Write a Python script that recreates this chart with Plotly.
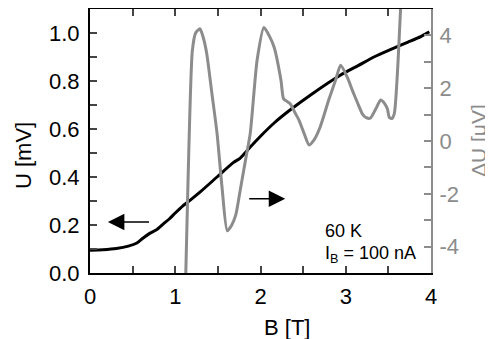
import plotly.graph_objects as go

# Black curve: U [mV] vs B [T]
B_u = [0.0, 0.15, 0.31, 0.45, 0.55, 0.62, 0.7, 0.78, 0.86, 0.93, 1.0, 1.09, 1.18, 1.3, 1.49, 1.68, 1.76, 1.88, 2.0, 2.16, 2.35, 2.6, 2.94, 3.15, 3.33, 3.55, 3.73, 3.88, 3.98]
U = [0.095, 0.097, 0.102, 0.112, 0.125, 0.145, 0.165, 0.18, 0.205, 0.225, 0.25, 0.28, 0.305, 0.34, 0.40, 0.46, 0.478, 0.525, 0.57, 0.625, 0.68, 0.745, 0.825, 0.865, 0.90, 0.935, 0.962, 0.985, 1.005]

# Gray curve: dU [uV] vs B [T]
B_d = [1.12, 1.15, 1.2, 1.24, 1.29, 1.33, 1.37, 1.43, 1.49, 1.55, 1.61, 1.66, 1.71, 1.76, 1.82, 1.88, 1.96, 2.04, 2.1, 2.16, 2.24, 2.27, 2.31, 2.35, 2.4, 2.45, 2.51, 2.57, 2.63, 2.7, 2.8, 2.88, 2.94, 3.02, 3.08, 3.14, 3.2, 3.25, 3.29, 3.35, 3.41, 3.46, 3.49, 3.51, 3.54, 3.57, 3.61, 3.64, 3.66]
dU = [-5.5, -1.5, 3.4, 4.1, 4.25, 3.9, 3.3, 1.8, 0.3, -1.8, -3.4, -3.2, -2.8, -1.9, -0.8, 0.3, 3.06, 4.3, 4.0, 3.55, 2.3, 1.6, 1.5, 1.4, 1.1, 0.8, 0.3, -0.15, 0.05, 0.53, 1.55, 2.3, 2.87, 2.4, 1.9, 1.43, 1.0, 0.87, 0.87, 1.2, 1.55, 1.4, 1.2, 0.9, 0.85, 1.05, 2.8, 4.8, 6.0]

# Tick labels
x_ticks = [0, 1, 2, 3, 4]
u_ticks = [0.0, 0.2, 0.4, 0.6, 0.8, 1.0]
du_ticks = [-4, -2, 0, 2, 4]
du_ticktext = ["-4", "-2", "0", "2", "4"]

FONT = "Liberation Sans, Arial, Helvetica, sans-serif"
GRAY = "#8c8c8c"
FS = 22
OFF = 8  # page body margin offset

fig = go.Figure()
fig.add_trace(go.Scatter(x=B_d, y=dU, mode="lines", line=dict(color=GRAY, width=3, shape="spline", smoothing=0.6),
                         yaxis="y2", showlegend=False))
fig.add_trace(go.Scatter(x=B_u, y=U, mode="lines", line=dict(color="black", width=3, shape="spline", smoothing=0.6),
                         showlegend=False))

fig.update_layout(
    width=493 - OFF, height=339 - OFF,
    margin=dict(l=90 - OFF, r=62, t=8 - OFF + 1, b=66),
    plot_bgcolor="white", paper_bgcolor="white",
    font=dict(family=FONT, size=FS, color="black"),
    xaxis=dict(range=[0, 4], tickvals=x_ticks, ticks="inside", ticklen=7, tickwidth=1.5,
               showline=True, linecolor="black", linewidth=2, mirror="ticks",
               showgrid=False, zeroline=False, automargin=False, ticklabelstandoff=3,
               minor=dict(dtick=0.5, tick0=0, ticks="inside", ticklen=7, tickwidth=1.5),
               tickfont=dict(size=FS)),
    yaxis=dict(range=[0, 1.1], tickvals=u_ticks, tickformat=".1f", ticks="inside", ticklen=7, tickwidth=1.5,
               showline=True, linecolor="black", linewidth=2,
               showgrid=False, zeroline=False, automargin=False, ticklabelstandoff=4,
               minor=dict(dtick=0.1, tick0=0, ticks="inside", ticklen=7, tickwidth=1.5),
               tickfont=dict(size=FS)),
    yaxis2=dict(range=[-5, 5], tickvals=du_ticks, ticktext=du_ticktext, overlaying="y", side="right",
                ticks="inside", ticklen=7, tickwidth=1.5, tickcolor=GRAY,
                showline=True, linecolor=GRAY, linewidth=2,
                showgrid=False, zeroline=False, automargin=False, ticklabelstandoff=2,
                minor=dict(dtick=1, tick0=0, ticks="inside", ticklen=7, tickwidth=1.5, tickcolor=GRAY),
                tickfont=dict(size=FS, color=GRAY)),
    annotations=[
        dict(x=0.21, y=0.2125, xref="x", yref="y", ax=0.71, ay=0.2125, axref="x", ayref="y",
             showarrow=True, arrowhead=2, arrowsize=2.2, arrowwidth=1.5, arrowcolor="black", text=""),
        dict(x=2.29, y=-2.19, xref="x", yref="y2", ax=1.85, ay=-2.19, axref="x", ayref="y2",
             showarrow=True, arrowhead=2, arrowsize=2.2, arrowwidth=1.5, arrowcolor="black", text=""),
        dict(x=2.73, y=-3.4, xref="x", yref="y2", text="60 K", showarrow=False,
             xanchor="left", yanchor="middle", font=dict(size=18)),
        dict(x=2.73, y=-4.3, xref="x", yref="y2", text="I<sub>B</sub> = 100 nA", showarrow=False,
             xanchor="left", yanchor="middle", font=dict(size=18)),
        # axis titles (positions given in page pixels, converted below)
        dict(x=23, y=156, text="U [mV]", textangle=-90, font=dict(size=FS)),
        dict(x=478, y=141, text="ΔU [μV]", textangle=-90, font=dict(size=21, color=GRAY)),
        dict(x=287, y=327, text="B [T]", font=dict(size=FS)),
    ],
)

# convert page pixel positions of the title annotations to paper coordinates
x0, x1, y0, y1 = 90, 431, 9, 273
for a in fig.layout.annotations[4:]:
    a.xref = "paper"
    a.yref = "paper"
    a.showarrow = False
    a.x = (a.x - x0) / (x1 - x0)
    a.y = (y1 - a.y) / (y1 - y0)
    a.xanchor = "center"
    a.yanchor = "middle"

fig.write_html("out.html")
